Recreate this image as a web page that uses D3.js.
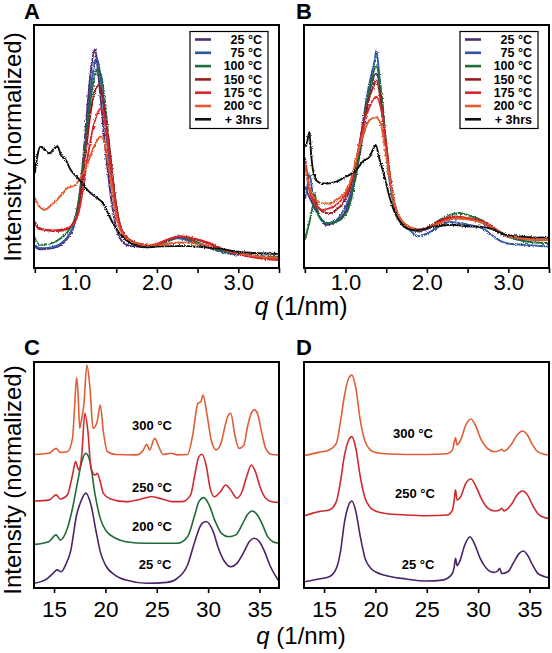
<!DOCTYPE html>
<html><head><meta charset="utf-8">
<script src="https://cdn.jsdelivr.net/npm/d3@7"></script>
<style>
html,body{margin:0;padding:0;background:#fff;}
svg{display:block;font-family:"Liberation Sans",Arial,Helvetica,sans-serif;}
</style></head>
<body><svg id="fig" width="552" height="653"></svg>
<script>
// ---------- DATA (q in 1/nm, normalized intensity) ----------
const legendLabelsAB = ["25 °C","75 °C","100 °C","150 °C","175 °C","200 °C","+ 3hrs"];
const ticksAB = [0.5,1.0,1.5,2.0,2.5,3.0,3.5];
const tickLabelsAB = ["1.0","2.0","3.0"];
const ticksCD = [15,20,25,30,35];
const labelsC = ["300 °C","250 °C","200 °C","25 °C"];
const labelsD = ["300 °C","250 °C","25 °C"];

const A25 = [[0.5,0.088],[0.57,0.077],[0.70,0.081],[0.82,0.095],[0.90,0.122],[0.97,0.163],[1.03,0.252],[1.07,0.362],[1.11,0.513],[1.15,0.677],[1.19,0.815],[1.24,0.90],[1.27,0.83],[1.315,0.677],[1.356,0.527],[1.40,0.39],[1.44,0.28],[1.48,0.197],[1.52,0.142],[1.56,0.115],[1.60,0.101],[1.68,0.09],[1.77,0.088],[1.85,0.086],[1.95,0.09],[2.05,0.10],[2.15,0.115],[2.25,0.124],[2.35,0.118],[2.45,0.105],[2.6,0.088],[2.75,0.072],[2.95,0.058],[3.15,0.048],[3.35,0.042],[3.5,0.040]];
const A75 = [[0.5,0.095],[0.57,0.081],[0.70,0.085],[0.82,0.101],[0.92,0.136],[1.01,0.21],[1.07,0.335],[1.13,0.54],[1.19,0.746],[1.24,0.849],[1.265,0.862],[1.31,0.774],[1.37,0.58],[1.43,0.39],[1.49,0.239],[1.57,0.149],[1.66,0.108],[1.77,0.090],[1.9,0.088],[2.05,0.10],[2.15,0.112],[2.25,0.122],[2.35,0.117],[2.45,0.104],[2.6,0.088],[2.75,0.07],[2.95,0.056],[3.15,0.05],[3.35,0.047],[3.5,0.046]];
const A100 = [[0.5,0.122],[0.53,0.105],[0.57,0.095],[0.70,0.101],[0.82,0.122],[0.92,0.156],[1.01,0.225],[1.07,0.35],[1.13,0.527],[1.19,0.705],[1.25,0.808],[1.28,0.82],[1.34,0.746],[1.40,0.554],[1.46,0.362],[1.52,0.211],[1.60,0.136],[1.73,0.104],[1.85,0.092],[1.95,0.092],[2.05,0.10],[2.15,0.115],[2.27,0.13],[2.37,0.122],[2.5,0.105],[2.65,0.085],[2.8,0.07],[3.0,0.058],[3.2,0.05],[3.5,0.045]];
const A150 = [[0.5,0.19],[0.55,0.165],[0.65,0.155],[0.75,0.152],[0.85,0.155],[0.94,0.17],[1.03,0.225],[1.07,0.32],[1.13,0.486],[1.19,0.65],[1.25,0.74],[1.29,0.753],[1.34,0.69],[1.40,0.54],[1.46,0.362],[1.52,0.218],[1.60,0.136],[1.73,0.104],[1.85,0.092],[1.95,0.093],[2.05,0.105],[2.15,0.118],[2.3,0.13],[2.45,0.12],[2.6,0.105],[2.75,0.085],[2.9,0.065],[3.1,0.05],[3.3,0.04],[3.5,0.035]];
const A175 = [[0.5,0.19],[0.55,0.16],[0.62,0.158],[0.72,0.155],[0.82,0.158],[0.94,0.17],[1.03,0.219],[1.09,0.32],[1.15,0.458],[1.21,0.568],[1.27,0.637],[1.315,0.657],[1.36,0.61],[1.40,0.513],[1.44,0.40],[1.48,0.29],[1.52,0.21],[1.58,0.149],[1.64,0.122],[1.77,0.101],[1.93,0.095],[2.05,0.105],[2.15,0.12],[2.3,0.13],[2.45,0.122],[2.6,0.108],[2.75,0.088],[2.9,0.066],[3.1,0.05],[3.3,0.038],[3.5,0.033]];
const A200 = [[0.5,0.29],[0.55,0.255],[0.62,0.24],[0.70,0.258],[0.79,0.287],[0.90,0.328],[0.99,0.34],[1.07,0.376],[1.15,0.431],[1.21,0.486],[1.27,0.527],[1.31,0.541],[1.36,0.513],[1.40,0.43],[1.44,0.35],[1.48,0.253],[1.52,0.184],[1.60,0.13],[1.68,0.109],[1.81,0.095],[1.95,0.093],[2.1,0.098],[2.3,0.105],[2.5,0.10],[2.7,0.085],[2.9,0.068],[3.1,0.055],[3.3,0.045],[3.5,0.042]];
const A3h = [[0.5,0.39],[0.53,0.459],[0.57,0.50],[0.62,0.486],[0.68,0.472],[0.74,0.493],[0.78,0.50],[0.82,0.465],[0.88,0.445],[0.94,0.404],[1.03,0.37],[1.11,0.335],[1.19,0.307],[1.27,0.287],[1.34,0.266],[1.40,0.225],[1.46,0.184],[1.54,0.143],[1.62,0.115],[1.73,0.095],[1.85,0.085],[2.0,0.088],[2.2,0.09],[2.4,0.09],[2.6,0.085],[2.8,0.078],[2.96,0.068],[3.2,0.062],[3.5,0.058]];

const B25 = [[0.5,0.335],[0.555,0.293],[0.68,0.211],[0.76,0.177],[0.885,0.191],[1.01,0.239],[1.09,0.321],[1.17,0.458],[1.255,0.636],[1.32,0.760],[1.378,0.80],[1.44,0.705],[1.50,0.499],[1.56,0.335],[1.62,0.232],[1.71,0.184],[1.83,0.156],[1.91,0.15],[2.0,0.16],[2.12,0.18],[2.25,0.198],[2.39,0.205],[2.53,0.20],[2.65,0.19],[2.74,0.175],[2.86,0.15],[2.98,0.13],[3.15,0.12],[3.5,0.115]];
const B75 = [[0.5,0.28],[0.53,0.33],[0.555,0.39],[0.6,0.30],[0.68,0.211],[0.76,0.184],[0.885,0.197],[0.967,0.232],[1.05,0.293],[1.13,0.403],[1.19,0.54],[1.255,0.691],[1.32,0.801],[1.36,0.856],[1.378,0.895],[1.42,0.774],[1.46,0.623],[1.50,0.472],[1.54,0.362],[1.60,0.252],[1.67,0.197],[1.75,0.170],[1.83,0.143],[1.88,0.13],[1.95,0.135],[2.1,0.16],[2.2,0.18],[2.28,0.19],[2.4,0.185],[2.55,0.175],[2.7,0.16],[2.8,0.135],[2.9,0.112],[2.98,0.102],[3.2,0.095],[3.5,0.088]];
const B100 = [[0.5,0.116],[0.55,0.18],[0.6,0.26],[0.62,0.307],[0.65,0.25],[0.68,0.211],[0.80,0.184],[0.93,0.197],[1.03,0.239],[1.11,0.348],[1.19,0.527],[1.255,0.664],[1.32,0.774],[1.378,0.83],[1.44,0.719],[1.50,0.513],[1.56,0.335],[1.62,0.232],[1.70,0.184],[1.83,0.156],[1.91,0.155],[2.0,0.165],[2.12,0.19],[2.25,0.215],[2.39,0.226],[2.53,0.215],[2.65,0.2],[2.74,0.185],[2.86,0.155],[2.98,0.132],[3.2,0.11],[3.5,0.102]];
const B150 = [[0.5,0.459],[0.555,0.335],[0.638,0.266],[0.72,0.232],[0.80,0.225],[0.885,0.239],[0.967,0.266],[1.05,0.321],[1.13,0.431],[1.21,0.582],[1.296,0.705],[1.36,0.76],[1.378,0.774],[1.42,0.719],[1.48,0.554],[1.54,0.389],[1.60,0.266],[1.67,0.204],[1.75,0.170],[1.85,0.156],[1.93,0.158],[2.05,0.175],[2.2,0.2],[2.35,0.212],[2.5,0.205],[2.65,0.195],[2.76,0.18],[2.88,0.152],[3.0,0.132],[3.2,0.12],[3.5,0.116]];
const B175 = [[0.5,0.444],[0.555,0.321],[0.638,0.259],[0.72,0.239],[0.80,0.245],[0.885,0.259],[0.967,0.287],[1.05,0.335],[1.13,0.444],[1.21,0.568],[1.296,0.664],[1.378,0.705],[1.44,0.65],[1.50,0.499],[1.56,0.348],[1.62,0.245],[1.70,0.191],[1.83,0.163],[1.93,0.158],[2.05,0.172],[2.2,0.195],[2.35,0.21],[2.5,0.205],[2.65,0.195],[2.76,0.178],[2.88,0.15],[3.0,0.13],[3.2,0.12],[3.5,0.116]];
const B200 = [[0.5,0.431],[0.555,0.335],[0.638,0.28],[0.72,0.266],[0.80,0.266],[0.885,0.28],[0.967,0.30],[1.05,0.348],[1.13,0.444],[1.21,0.540],[1.296,0.609],[1.378,0.62],[1.44,0.582],[1.50,0.458],[1.56,0.335],[1.62,0.239],[1.70,0.191],[1.83,0.163],[1.93,0.158],[2.05,0.17],[2.2,0.19],[2.35,0.205],[2.5,0.2],[2.65,0.19],[2.76,0.175],[2.88,0.15],[3.0,0.13],[3.2,0.12],[3.5,0.115]];
const B3h = [[0.5,0.50],[0.53,0.52],[0.555,0.56],[0.58,0.46],[0.6,0.404],[0.66,0.355],[0.72,0.348],[0.80,0.348],[0.885,0.355],[0.967,0.369],[1.05,0.383],[1.13,0.403],[1.21,0.438],[1.296,0.458],[1.34,0.49],[1.37,0.506],[1.42,0.444],[1.48,0.376],[1.54,0.293],[1.60,0.232],[1.67,0.19],[1.75,0.163],[1.83,0.156],[1.91,0.157],[2.05,0.168],[2.2,0.175],[2.3,0.178],[2.5,0.172],[2.7,0.168],[2.8,0.16],[2.9,0.145],[3.0,0.135],[3.2,0.128],[3.5,0.125]];

const C25 = [[13.1,0.021],[14.3,0.04],[14.9,0.065],[15.3,0.08],[15.7,0.072],[16.2,0.11],[16.6,0.16],[17.2,0.323],[17.6,0.382],[18.1,0.42],[18.6,0.367],[19.1,0.249],[19.5,0.161],[20,0.102],[21,0.055],[22,0.035],[24,0.021],[26,0.025],[27,0.043],[28,0.102],[28.7,0.205],[29.3,0.279],[29.8,0.294],[30.5,0.249],[31,0.176],[31.6,0.117],[32.2,0.094],[32.8,0.109],[33.5,0.161],[34,0.205],[34.5,0.22],[35,0.205],[35.5,0.161],[36,0.102],[36.5,0.058],[36.9,0.03]];
const C200 = [[13.1,0.193],[14.5,0.205],[15.2,0.235],[15.6,0.212],[16.3,0.264],[16.8,0.353],[17.3,0.471],[17.7,0.559],[18.1,0.596],[18.5,0.559],[19,0.412],[19.5,0.308],[20,0.257],[21,0.22],[22,0.205],[24,0.198],[27,0.198],[28,0.227],[28.7,0.323],[29.1,0.382],[29.6,0.40],[30.1,0.367],[30.7,0.294],[31.3,0.242],[32,0.227],[32.7,0.235],[33.3,0.279],[33.8,0.323],[34.3,0.341],[34.8,0.323],[35.3,0.279],[35.8,0.227],[36.3,0.205],[36.9,0.198]];
const C250 = [[13.1,0.385],[14.5,0.389],[15.2,0.412],[15.6,0.394],[16.3,0.412],[16.8,0.50],[17.1,0.559],[17.4,0.522],[17.7,0.589],[18.0,0.773],[18.3,0.692],[18.6,0.530],[19.0,0.50],[19.2,0.507],[19.5,0.471],[19.8,0.419],[20.5,0.394],[22,0.382],[23.5,0.394],[24.5,0.404],[25.5,0.394],[26.5,0.382],[27.5,0.382],[28.3,0.412],[28.7,0.50],[29.1,0.581],[29.4,0.592],[29.8,0.544],[30.2,0.441],[30.6,0.404],[31.2,0.426],[31.7,0.456],[32.2,0.434],[32.8,0.397],[33.3,0.426],[33.8,0.50],[34.2,0.544],[34.6,0.515],[35.1,0.441],[35.6,0.397],[36.2,0.382],[36.9,0.379]];
const C300 = [[13.1,0.591],[14.5,0.596],[15.2,0.618],[15.6,0.600],[16.3,0.603],[16.8,0.662],[17.0,0.80],[17.2,0.931],[17.35,0.85],[17.5,0.707],[17.7,0.75],[17.9,0.810],[18.2,0.987],[18.5,0.884],[18.8,0.707],[19.2,0.736],[19.5,0.810],[19.8,0.692],[20.2,0.603],[21,0.591],[23,0.589],[23.7,0.611],[24.0,0.636],[24.3,0.611],[24.8,0.662],[25.2,0.625],[25.6,0.591],[26.4,0.596],[27,0.589],[28,0.591],[28.5,0.677],[29,0.817],[29.3,0.825],[29.5,0.854],[29.9,0.765],[30.3,0.655],[30.8,0.611],[31.3,0.648],[31.6,0.707],[31.9,0.758],[32.2,0.773],[32.6,0.677],[33,0.618],[33.5,0.633],[33.8,0.707],[34.2,0.773],[34.5,0.788],[34.8,0.773],[35.2,0.692],[35.6,0.618],[36.2,0.591],[36.9,0.589]];

const D25 = [[13.1,0.028],[14.5,0.04],[15.5,0.05],[16.2,0.087],[16.6,0.161],[17.0,0.294],[17.4,0.367],[17.7,0.385],[18.1,0.338],[18.5,0.235],[19,0.131],[19.5,0.090],[20,0.072],[21,0.055],[23,0.040],[25,0.031],[26.5,0.035],[27.4,0.058],[27.65,0.087],[27.8,0.131],[27.95,0.099],[28.2,0.117],[28.7,0.190],[29.2,0.227],[29.7,0.190],[30.2,0.131],[30.8,0.087],[31.5,0.069],[31.9,0.075],[32.1,0.087],[32.3,0.064],[32.9,0.072],[33.5,0.117],[34.0,0.153],[34.4,0.164],[34.8,0.146],[35.3,0.102],[35.8,0.065],[36.5,0.050],[36.9,0.046]];
const D250 = [[13.1,0.320],[14.5,0.338],[15.5,0.345],[16.2,0.382],[16.6,0.471],[17.0,0.589],[17.4,0.655],[17.7,0.670],[18.1,0.618],[18.5,0.500],[19,0.397],[19.5,0.356],[20,0.341],[21,0.330],[23,0.323],[25,0.320],[27,0.323],[27.5,0.345],[27.65,0.382],[27.8,0.434],[27.95,0.389],[28.3,0.404],[28.8,0.463],[29.3,0.482],[29.8,0.448],[30.3,0.397],[30.9,0.356],[31.6,0.341],[32.1,0.345],[32.3,0.353],[32.5,0.341],[33.2,0.367],[33.8,0.412],[34.3,0.429],[34.8,0.412],[35.3,0.367],[35.8,0.330],[36.5,0.311],[36.9,0.308]];
const D300 = [[13.1,0.586],[14.5,0.600],[15.5,0.611],[16.2,0.640],[16.6,0.736],[17.0,0.854],[17.4,0.928],[17.7,0.942],[18.1,0.884],[18.5,0.751],[19,0.648],[19.5,0.611],[20,0.600],[21,0.594],[23,0.591],[25,0.591],[27,0.594],[27.5,0.611],[27.65,0.640],[27.8,0.665],[27.95,0.633],[28.3,0.655],[28.8,0.721],[29.3,0.748],[29.8,0.714],[30.3,0.655],[30.9,0.618],[31.6,0.603],[32.1,0.609],[32.3,0.614],[32.5,0.606],[33.2,0.633],[33.8,0.677],[34.3,0.695],[34.8,0.677],[35.3,0.633],[35.8,0.603],[36.5,0.591],[36.9,0.589]];

// ---------- STYLE ----------
const colAB = ["#4f2b70","#2f55a6","#1e6d38","#9a1b20","#d9252b","#e25d2d","#111111"];
const colCD = {"25":"#4b2367","200":"#1f6a35","250":"#cf2a2f","300":"#df5e37"};

const svg = d3.select("#fig");
const defs = svg.append("defs");
const flt = defs.append("filter").attr("id","noisy").attr("x","-5%").attr("y","-5%").attr("width","110%").attr("height","110%");
flt.append("feTurbulence").attr("type","fractalNoise").attr("baseFrequency","0.9").attr("numOctaves",1).attr("seed",3).attr("result","t");
flt.append("feDisplacementMap").attr("in","SourceGraphic").attr("in2","t").attr("scale",3.2).attr("xChannelSelector","R").attr("yChannelSelector","G");

const panels = {
  A:{x0:34,x1:279,y0:25,y1:268},
  B:{x0:304,x1:549,y0:25,y1:268},
  C:{x0:34,x1:279,y0:362,y1:588},
  D:{x0:304,x1:549,y0:362,y1:588}
};

function drawPanel(key, xdom, ticks, fmt, series, colors, pad, fs, noisy){
  const p = panels[key];
  const x = d3.scaleLinear().domain(xdom).range([p.x0,p.x1]);
  const y = d3.scaleLinear().domain([0,1]).range([p.y1,p.y0]);
  defs.append("clipPath").attr("id","clip"+key).append("rect")
    .attr("x",p.x0).attr("y",p.y0).attr("width",p.x1-p.x0).attr("height",p.y1-p.y0);
  const g = svg.append("g").attr("clip-path","url(#clip"+key+")");
  const gl = g.append("g");
  if(noisy) gl.attr("filter","url(#noisy)");
  const line = d3.line().x(d=>x(d[0])).y(d=>y(d[1])).curve(d3.curveMonotoneX);
  series.forEach((s,i)=>{
    gl.append("path").attr("d",line(s)).attr("fill","none")
      .attr("stroke",colors[i]).attr("stroke-width",noisy?1.9:1.6).attr("stroke-linejoin","round");
  });
  svg.append("rect").attr("x",p.x0).attr("y",p.y0).attr("width",p.x1-p.x0).attr("height",p.y1-p.y0)
    .attr("fill","none").attr("stroke","#000").attr("stroke-width",2);
  const ax = d3.axisBottom(x).tickValues(ticks).tickFormat(fmt).tickSize(5).tickPadding(pad);
  const ag = svg.append("g").attr("transform",`translate(0,${p.y1})`).call(ax);
  ag.select(".domain").remove();
  ag.selectAll(".tick line").attr("stroke","#000").attr("stroke-width",1.6);
  ag.selectAll(".tick text").attr("fill","#000").style("font-size",fs+"px")
    .style("font-family","'Liberation Sans',Arial,sans-serif");
  return {x,y};
}

const fmtAB = d => (Math.abs(d-Math.round(d))<1e-9) ? tickLabelsAB[Math.round(d)-1] : "";
const fmtCD = d => String(d);

drawPanel("A",[0.49,3.5],ticksAB,fmtAB,[A25,A75,A100,A150,A175,A200,A3h],colAB,1,22,true);
drawPanel("B",[0.49,3.5],ticksAB,fmtAB,[B25,B75,B100,B150,B175,B200,B3h],colAB,1,22,true);
drawPanel("C",[13.05,36.9],ticksCD,fmtCD,[C25,C200,C250,C300],[colCD["25"],colCD["200"],colCD["250"],colCD["300"]],8,22.5,false);
drawPanel("D",[13.05,36.9],ticksCD,fmtCD,[D25,D250,D300],[colCD["25"],colCD["250"],colCD["300"]],8,22.5,false);

// legends
function legend(lx, ly){
  const g = svg.append("g");
  g.append("rect").attr("x",lx).attr("y",ly).attr("width",78).attr("height",97)
    .attr("fill","#fff").attr("stroke","#000").attr("stroke-width",1.2);
  legendLabelsAB.forEach((t,i)=>{
    const yy = ly+8+i*13.3;
    g.append("line").attr("x1",lx+5).attr("x2",lx+21).attr("y1",yy).attr("y2",yy)
      .attr("stroke",colAB[i]).attr("stroke-width",2.6);
    g.append("text").attr("x",lx+72).attr("y",yy+4.3).attr("text-anchor","end")
      .style("font-size","12.5px").style("font-weight","bold").text(t);
  });
}
legend(190,31.5);
legend(460,31.5);

// C / D labels
const cPos = [[152,430],[152,492],[152,531],[155,569]];
labelsC.forEach((t,i)=> svg.append("text").attr("x",cPos[i][0]).attr("y",cPos[i][1]).attr("text-anchor","middle")
  .style("font-size","13px").style("font-weight","bold").text(t));
const dPos = [[413,438],[415,498],[418,569]];
labelsD.forEach((t,i)=> svg.append("text").attr("x",dPos[i][0]).attr("y",dPos[i][1]).attr("text-anchor","middle")
  .style("font-size","13px").style("font-weight","bold").text(t));

// panel letters
[["A",24,19],["B",296,19],["C",24,355],["D",296,355]].forEach(l=>
  svg.append("text").attr("x",l[1]).attr("y",l[2]).style("font-size","22px").style("font-weight","bold").text(l[0]));

// y titles
[147,480].forEach(cy=> svg.append("text").attr("transform",`translate(21,${cy}) rotate(-90)`)
  .attr("text-anchor","middle").style("font-size","24px").text("Intensity (normalized)"));

// x titles
[[315,25],[644,24]].forEach(([by,fs])=>{
  const t = svg.append("text").attr("x",301).attr("y",by).attr("text-anchor","middle").style("font-size",fs+"px");
  t.append("tspan").style("font-style","italic").text("q");
  t.append("tspan").text(" (1/nm)");
});
</script></body></html>
